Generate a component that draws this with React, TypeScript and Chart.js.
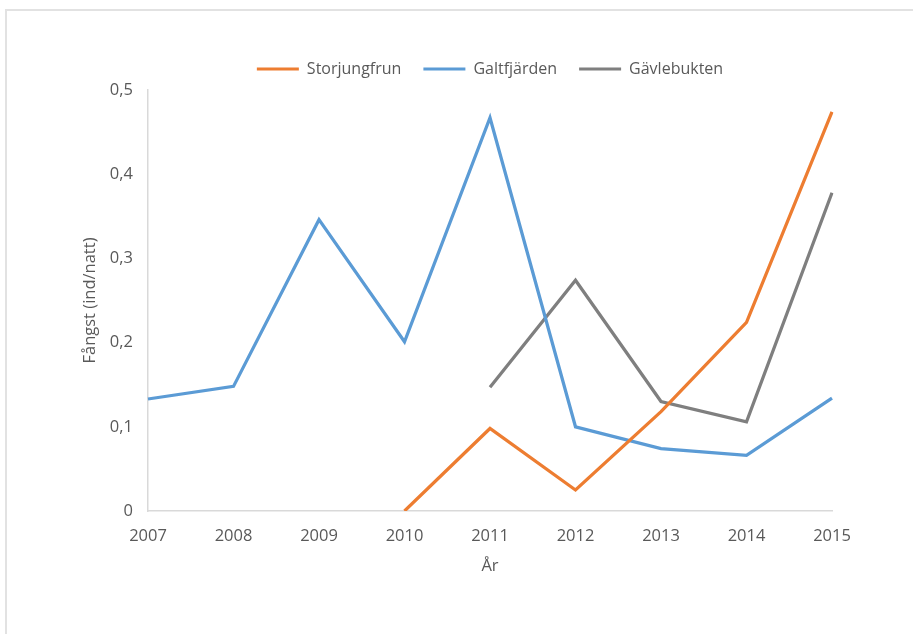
import React, { useEffect, useRef } from "react";
import { Chart, registerables } from "chart.js";

Chart.register(...registerables);

const years = ["2007", "2008", "2009", "2010", "2011", "2012", "2013", "2014", "2015"];
const storjungfrun = [null, null, null, 0, 0.098, 0.025, 0.118, 0.224, 0.474];
const galtfjarden = [0.133, 0.148, 0.346, 0.201, 0.467, 0.1, 0.074, 0.066, 0.134];
const gavlebukten = [null, null, null, null, 0.147, 0.274, 0.13, 0.106, 0.378];
const yTickLabels = ["0", "0,1", "0,2", "0,3", "0,4", "0,5"];

const seriesNames = ["Storjungfrun", "Galtfjärden", "Gävlebukten"];
const seriesColors = ["#ED7D31", "#5B9BD5", "#7F7F7F"];

const FONT = "'Open Sans', 'Noto Sans', sans-serif";
const TEXT = "#595959";
const AXIS = "#d9d9d9";

export default function App() {
  const ref = useRef<HTMLCanvasElement | null>(null);

  useEffect(() => {
    if (!ref.current) return;
    const values = [storjungfrun, galtfjarden, gavlebukten];
    const legendPad = {
      id: "legendPad",
      afterInit(chart: any) {
        const lg = chart.legend;
        if (lg && !lg.__patched) {
          const orig = lg.fit;
          lg.fit = function () {
            orig.call(this);
            this.height += 3;
          };
          lg.__patched = true;
        }
      },
    };
    const chart = new Chart(ref.current, {
      type: "line",
      data: {
        labels: years,
        datasets: values.map((d, i) => ({
          label: seriesNames[i],
          data: d,
          borderColor: seriesColors[i],
          backgroundColor: seriesColors[i],
          borderWidth: 3.25,
          pointRadius: 0,
          tension: 0,
          spanGaps: false,
          borderJoinStyle: "miter" as const,
        })),
      },
      plugins: [legendPad],
      options: {
        animation: false,
        responsive: false,
        maintainAspectRatio: false,
        layout: { padding: { top: 39, right: 81, bottom: 0, left: 0 } },
        plugins: {
          tooltip: { enabled: false },
          legend: {
            position: "top",
            fullSize: false,
            labels: {
              boxWidth: 42,
              boxHeight: 3,
              padding: 22,
              color: TEXT,
              font: { family: FONT, size: 16 },
              generateLabels(chart: any) {
                const items = Chart.defaults.plugins.legend.labels.generateLabels(chart);
                return items.map((it: any) => ({
                  ...it,
                  lineWidth: 0,
                  fillStyle: it.strokeStyle,
                }));
              },
            },
          },
        },
        scales: {
          x: {
            offset: false,
            grid: { display: false, drawTicks: false },
            border: { display: true, color: AXIS, width: 1.5 },
            ticks: {
              color: TEXT,
              font: { family: FONT, size: 16.5 },
              padding: 15,
              maxRotation: 0,
              autoSkip: false,
            },
            title: {
              display: true,
              text: "År",
              color: TEXT,
              font: { family: FONT, size: 16.5 },
              padding: { top: 0, bottom: 58 },
            },
            afterFit(scale: any) {
              scale.height = 123;
            },
          },
          y: {
            min: 0,
            max: 0.5,
            grid: { display: false, drawTicks: false },
            border: { display: true, color: AXIS, width: 1.5 },
            ticks: {
              stepSize: 0.1,
              color: TEXT,
              font: { family: FONT, size: 16.5 },
              padding: 15,
              callback: (_v: any, i: number) => yTickLabels[i],
            },
            title: {
              display: true,
              text: "Fångst (ind/natt)",
              color: TEXT,
              font: { family: FONT, size: 16.5 },
              padding: { top: 80, bottom: 0 },
            },
            afterFit(scale: any) {
              scale.width = 148;
            },
          },
        },
      },
    });
    return () => chart.destroy();
  }, []);

  return (
    <div style={{ position: "fixed", left: 0, top: 0, width: 913, height: 634, background: "#fff", overflow: "hidden" }}>
      <div
        style={{
          position: "absolute",
          left: 5,
          top: 9,
          width: 940,
          height: 660,
          border: "2px solid #e2e2e2",
          boxSizing: "border-box",
        }}
      />
      <canvas ref={ref} width={913} height={634} style={{ position: "absolute", left: 0, top: 0, width: 913, height: 634 }} />
    </div>
  );
}
